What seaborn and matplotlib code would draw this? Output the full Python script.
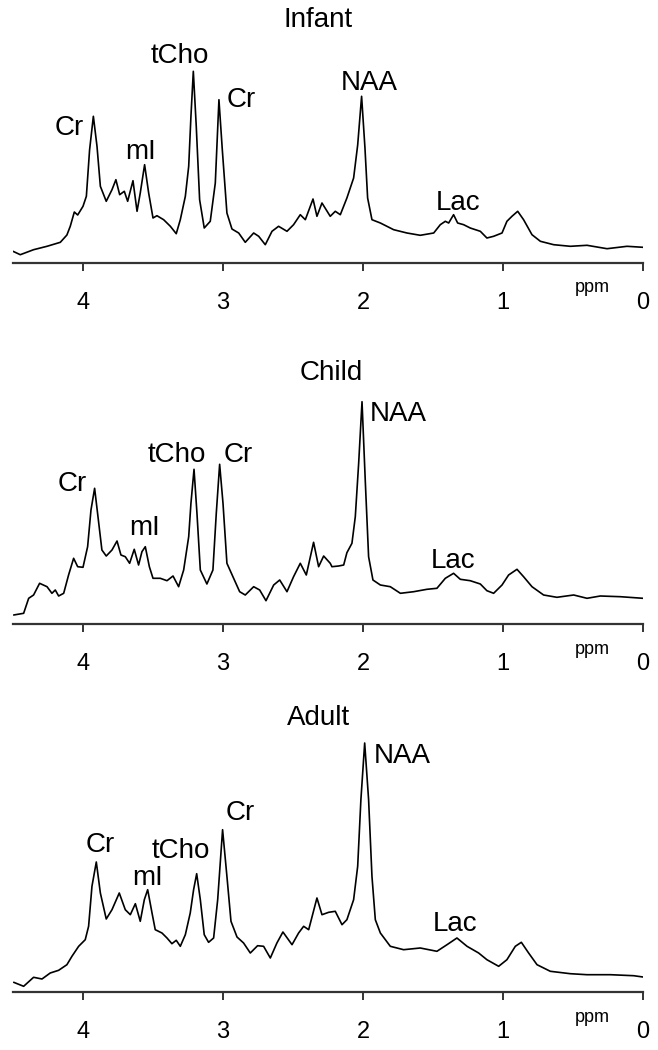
import matplotlib
matplotlib.use("Agg")
import matplotlib.pyplot as plt
import seaborn as sns
import pandas as pd

# ---- spectra (ppm, intensity in arbitrary units) ----
infant_ppm = [4.500, 4.448, 4.353, 4.257, 4.162, 4.115, 4.091, 4.062, 4.038, 4.000,
              3.976, 3.953, 3.926, 3.900, 3.876, 3.834, 3.793, 3.765, 3.738, 3.705,
              3.681, 3.643, 3.614, 3.591, 3.560, 3.531, 3.500, 3.472, 3.424, 3.376,
              3.334, 3.305, 3.269, 3.245, 3.229, 3.212, 3.191, 3.167, 3.134, 3.091,
              3.055, 3.029, 3.005, 2.972, 2.936, 2.888, 2.841, 2.781, 2.745, 2.698,
              2.650, 2.603, 2.543, 2.496, 2.448, 2.412, 2.357, 2.329, 2.293, 2.234,
              2.198, 2.162, 2.115, 2.067, 2.038, 2.010, 1.986, 1.967, 1.936, 1.876,
              1.781, 1.686, 1.591, 1.495, 1.448, 1.412, 1.388, 1.353, 1.324, 1.281,
              1.234, 1.162, 1.115, 1.067, 1.007, 0.972, 0.936, 0.895, 0.853, 0.793,
              0.733, 0.638, 0.519, 0.400, 0.257, 0.114, 0.000]
infant_int = [11.7, 8.3, 13.3, 16.7, 20.7, 28.0, 36.7, 51.0, 48.0, 56.7,
              66.7, 113.0, 146.7, 116.7, 76.7, 61.7, 73.3, 83.3, 68.3, 71.7,
              61.7, 82.3, 51.7, 70.0, 98.3, 70.0, 45.0, 47.3, 43.3, 36.7,
              29.3, 43.3, 66.7, 96.7, 146.7, 191.7, 136.7, 63.3, 35.0, 41.7,
              80.0, 163.3, 113.3, 50.0, 34.0, 30.0, 20.7, 30.0, 26.7, 18.3,
              31.7, 36.7, 31.7, 38.3, 48.3, 43.3, 64.0, 46.7, 60.0, 46.7,
              51.7, 48.3, 65.0, 85.0, 118.0, 166.7, 115.0, 65.0, 43.3, 40.0,
              33.3, 30.0, 27.7, 30.0, 38.3, 41.7, 40.0, 48.3, 40.0, 38.3,
              35.0, 31.7, 25.0, 26.7, 30.0, 41.7, 46.7, 51.7, 43.3, 28.3,
              21.7, 18.3, 16.7, 17.7, 14.3, 16.7, 15.7]

child_ppm = [4.495, 4.424, 4.388, 4.353, 4.310, 4.257, 4.222, 4.198, 4.174, 4.138,
             4.103, 4.067, 4.038, 4.000, 3.967, 3.943, 3.917, 3.893, 3.865, 3.834,
             3.793, 3.757, 3.729, 3.698, 3.667, 3.634, 3.603, 3.579, 3.555, 3.526,
             3.500, 3.448, 3.400, 3.357, 3.317, 3.281, 3.245, 3.229, 3.207, 3.186,
             3.162, 3.115, 3.072, 3.048, 3.024, 3.000, 2.972, 2.924, 2.881, 2.841,
             2.781, 2.738, 2.693, 2.638, 2.595, 2.543, 2.496, 2.448, 2.405, 2.353,
             2.317, 2.281, 2.234, 2.222, 2.174, 2.138, 2.115, 2.079, 2.055, 2.031,
             2.007, 1.984, 1.960, 1.929, 1.876, 1.805, 1.733, 1.638, 1.543, 1.472,
             1.412, 1.353, 1.305, 1.234, 1.162, 1.115, 1.067, 1.007, 0.960, 0.900,
             0.853, 0.793, 0.710, 0.615, 0.495, 0.400, 0.305, 0.162, 0.000]
child_int = [9.0, 10.7, 25.7, 29.0, 40.7, 37.3, 30.7, 34.0, 28.0, 30.7,
             49.0, 65.7, 57.3, 56.7, 77.3, 114.0, 135.7, 107.3, 74.0, 68.0,
             74.0, 83.0, 69.0, 67.3, 60.7, 74.7, 59.0, 72.3, 77.3, 57.3,
             45.7, 45.7, 43.3, 48.0, 37.3, 54.0, 87.3, 120.7, 154.7, 110.7,
             54.0, 40.0, 54.0, 110.7, 159.7, 120.7, 60.7, 45.7, 32.3, 29.0,
             37.3, 34.0, 23.3, 39.0, 44.0, 32.3, 47.3, 60.7, 49.0, 81.7,
             57.3, 68.0, 60.7, 57.3, 58.0, 59.0, 71.3, 80.7, 107.3, 160.7,
             222.3, 144.0, 67.3, 44.0, 39.0, 37.3, 30.7, 32.3, 34.7, 35.7,
             45.7, 50.7, 44.7, 43.3, 40.0, 33.3, 30.7, 39.0, 49.0, 54.7,
             47.3, 37.3, 29.0, 26.7, 29.0, 25.7, 28.0, 27.3, 25.7]

adult_ppm = [4.495, 4.424, 4.353, 4.293, 4.234, 4.174, 4.115, 4.079, 4.031, 3.984,
             3.960, 3.936, 3.905, 3.876, 3.834, 3.793, 3.741, 3.698, 3.662, 3.626,
             3.591, 3.562, 3.538, 3.507, 3.484, 3.436, 3.400, 3.365, 3.334, 3.305,
             3.269, 3.234, 3.210, 3.188, 3.162, 3.134, 3.103, 3.067, 3.038, 3.003,
             2.972, 2.943, 2.900, 2.853, 2.805, 2.753, 2.710, 2.662, 2.615, 2.572,
             2.507, 2.460, 2.424, 2.388, 2.329, 2.293, 2.245, 2.198, 2.150, 2.115,
             2.067, 2.038, 2.015, 1.988, 1.960, 1.936, 1.912, 1.876, 1.805, 1.710,
             1.591, 1.472, 1.400, 1.329, 1.257, 1.174, 1.115, 1.031, 0.972, 0.912,
             0.869, 0.817, 0.757, 0.662, 0.519, 0.400, 0.233, 0.067, 0.000]
adult_int = [9.7, 5.7, 14.7, 13.0, 19.0, 21.7, 27.3, 35.7, 45.7, 52.3,
             65.7, 105.7, 130.0, 99.0, 73.0, 82.3, 99.0, 82.3, 77.3, 88.3,
             70.7, 92.3, 102.3, 79.0, 62.3, 59.0, 54.0, 48.3, 51.7, 45.7,
             57.3, 79.0, 102.3, 118.3, 92.3, 57.3, 49.7, 54.0, 92.3, 162.3,
             115.7, 70.7, 55.0, 49.0, 39.0, 46.3, 45.7, 34.0, 49.0, 60.0,
             47.3, 59.0, 65.7, 62.3, 94.0, 77.3, 79.7, 80.7, 67.3, 72.3,
             92.3, 125.7, 192.3, 249.0, 192.3, 115.7, 72.3, 59.0, 45.7, 42.3,
             44.0, 40.7, 47.3, 54.0, 45.7, 39.0, 32.3, 25.7, 32.3, 45.7,
             49.7, 39.0, 27.3, 20.7, 18.3, 17.3, 17.3, 16.3, 15.0]

# ---- labels ----
titles = ["Infant", "Child", "Adult"]
title_pos = [(2.32, 243), (2.23, 251), (2.32, 274)]
peak_names = ["Cr", "mI", "tCho", "Cr", "NAA", "Lac"]
infant_lbl = [(4.10, 135), (3.59, 111), (3.31, 207), (2.87, 163), (1.955, 180), (1.32, 60)]
child_lbl = [(4.08, 140), (3.56, 96), (3.33, 169), (2.89, 169), (1.75, 210), (1.36, 63)]
adult_lbl = [(3.88, 147), (3.54, 114), (3.30, 141), (2.88, 179), (1.72, 236), (1.34, 68)]
xticks = [4, 3, 2, 1, 0]

sns.set_style("white")
plt.rcParams["font.family"] = ["Liberation Sans", "DejaVu Sans"]
plt.rcParams["text.color"] = "black"
plt.rcParams["xtick.labelcolor"] = "black"

fig = plt.figure(figsize=(6.58, 10.5), dpi=100)

# axes rectangles in pixels: (axis-line y, top y)
panels = [
    (infant_ppm, infant_int, infant_lbl, 263, 0),
    (child_ppm, child_int, child_lbl, 624, 330),
    (adult_ppm, adult_int, adult_lbl, 992, 700),
]

for i, (ppm, inten, lbls, ybot, ytop) in enumerate(panels):
    h = ybot - ytop
    ax = fig.add_axes([13 / 658, 1 - ybot / 1050, 630 / 658, h / 1050])
    df = pd.DataFrame({"ppm": ppm, "intensity": inten})
    sns.lineplot(data=df, x="ppm", y="intensity", ax=ax, color="black",
                 linewidth=1.2, sort=False)
    ax.set_xlim(4.5, 0)
    ax.set_ylim(0, h)
    ax.set_xticks(xticks)
    ax.set_xticklabels([str(t) for t in xticks])
    ax.set_yticks([])
    ax.set_xlabel("")
    ax.set_ylabel("")
    for s in ["top", "left", "right"]:
        ax.spines[s].set_visible(False)
    ax.spines["bottom"].set_color("#333333")
    ax.spines["bottom"].set_linewidth(1.6)
    ax.tick_params(axis="x", direction="out", length=6, width=1.4,
                   color="#333333", labelcolor="black", labelsize=17, pad=15, bottom=True)
    ax.patch.set_alpha(0)

    tx, ty = title_pos[i]
    ax.text(tx, ty, titles[i], ha="center", va="center", fontsize=20, color="black")
    for name, (lx, ly) in zip(peak_names, lbls):
        ax.text(lx, ly, name, ha="center", va="center", fontsize=20,
                color="black", clip_on=False)
    ax.text(0.36, -25, "ppm", ha="center", va="center", fontsize=13,
            color="black", clip_on=False)

fig.savefig("out.png", dpi=100)
